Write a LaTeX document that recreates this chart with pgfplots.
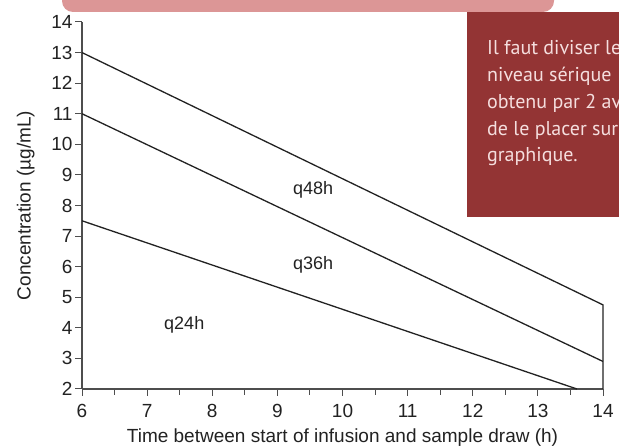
\documentclass[border=0pt]{standalone}
\usepackage{pgfplots}
\pgfplotsset{compat=1.18}
\usepackage{fontspec}
\setmainfont{Liberation Sans}
\newfontfamily\ptsans{PT Sans}
\definecolor{boxred}{HTML}{933434}
\definecolor{pinkbar}{HTML}{DC9696}
\definecolor{boxtext}{HTML}{F5DEDE}
\definecolor{ink}{HTML}{222222}
\begin{document}
\begin{tikzpicture}[x=1bp,y=1bp]
\useasboundingbox (0,0) rectangle (619,447);
\clip (0,0) rectangle (619,447);
\fill[white] (0,0) rectangle (619,447);
\begin{axis}[
  at={(82bp,58bp)}, anchor=south west,
  scale only axis, width=521bp, height=367bp,
  xmin=6, xmax=14, ymin=2, ymax=14,
  axis lines=left, axis line style={-, line width=1.1bp, ink!80},
  xtick={6,...,14}, ytick={2,...,14}, minor x tick num=1,
  tick align=outside, major tick length=7bp, minor tick length=6bp,
  every tick/.style={ink!80, line width=1bp},
  /pgf/number format/assume math mode=true,
  ticklabel style={font=\fontsize{19bp}{22bp}\selectfont, text=ink},
  xticklabel style={yshift=-5bp},
  yticklabel style={xshift=1bp},
  label style={font=\fontsize{19bp}{22bp}\selectfont, text=ink},
  xlabel={Time between start of infusion and sample draw (h)},
  ylabel={Concentration (µg/mL)},
  xlabel style={yshift=-4bp},
  ylabel style={yshift=10bp},
  clip=false,
]
\addplot[ink, line width=1.3bp] coordinates {(6,13) (14,4.75) (14,2)};
\addplot[ink, line width=1.3bp] coordinates {(6,11) (14,2.9)};
\addplot[ink, line width=1.3bp] coordinates {(6,7.5) (13.6,2)};
\node[font=\fontsize{18bp}{21bp}\selectfont, text=ink] at (axis cs:9.55,8.5) {q48h};
\node[font=\fontsize{18bp}{21bp}\selectfont, text=ink] at (axis cs:9.55,6.05) {q36h};
\node[font=\fontsize{18bp}{21bp}\selectfont, text=ink] at (axis cs:7.57,4.1) {q24h};
\end{axis}
\fill[pinkbar, rounded corners=11bp] (62,435) rectangle (554,475);
\fill[boxred] (467,230) rectangle (650,435);
\begin{scope}[every node/.style={anchor=base west, inner sep=0pt, text=boxtext, font=\ptsans\fontsize{20bp}{24bp}\selectfont}]
\node at (487,392) {Il faut diviser le};
\node at (487,365.25) {niveau sérique};
\node at (487,338.5) {obtenu par 2 avant};
\node at (487,311.75) {de le placer sur le};
\node at (487,285) {graphique.};
\end{scope}
\end{tikzpicture}
\end{document}
